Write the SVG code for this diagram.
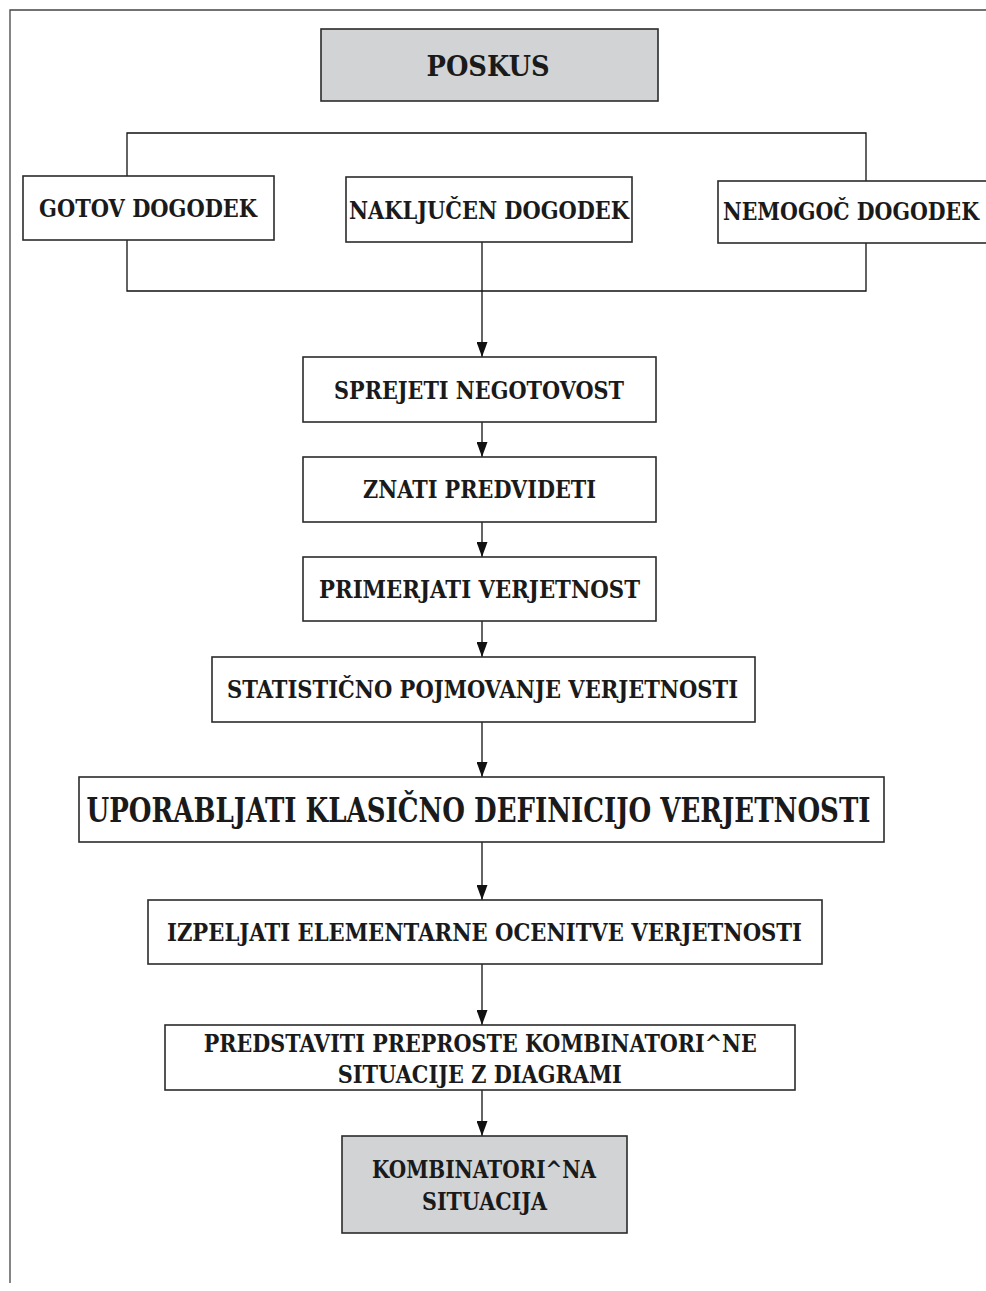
<svg xmlns="http://www.w3.org/2000/svg" width="986" height="1291" viewBox="0 0 986 1291">
<defs>
<style>
.box{fill:#ffffff;stroke:#2b2b2b;stroke-width:1.6}
.grey{fill:#d1d3d4;stroke:#2b2b2b;stroke-width:1.6}
.t{font-family:"DejaVu Serif","Liberation Serif",serif;font-weight:bold;fill:#1a1a1a;text-anchor:middle;font-size:23.5px}
.big{font-size:34px}
.top{font-size:27.5px}
.ln{fill:none;stroke:#111;stroke-width:1.3}
.frame{fill:none;stroke:#444;stroke-width:1.3}
</style>
<marker id="ah" markerUnits="userSpaceOnUse" markerWidth="15" markerHeight="11" refX="15" refY="5.5" orient="auto">
<path d="M0,0 L15,5.5 L0,11 z" fill="#111"/>
</marker>
</defs>
<path class="frame" d="M10,1283 V10 H986"/>
<g id="connectors">
<path class="ln" d="M127,176 V133 H866 V181"/>
<path class="ln" d="M127,240 V291 H866 V243"/>
<path class="ln" d="M482,242 V357" marker-end="url(#ah)"/>
<path class="ln" d="M482,422 V457" marker-end="url(#ah)"/>
<path class="ln" d="M482,522 V557" marker-end="url(#ah)"/>
<path class="ln" d="M482,621 V657" marker-end="url(#ah)"/>
<path class="ln" d="M482,722 V777" marker-end="url(#ah)"/>
<path class="ln" d="M482,842 V900" marker-end="url(#ah)"/>
<path class="ln" d="M482,964 V1025" marker-end="url(#ah)"/>
<path class="ln" d="M482,1090 V1136" marker-end="url(#ah)"/>
</g>
<g id="poskus">
<rect class="grey" x="321" y="29" width="337" height="72"/>
<text class="t top" x="488" y="76" textLength="123" lengthAdjust="spacingAndGlyphs">POSKUS</text>
</g>
<g id="gotov">
<rect class="box" x="23" y="176" width="251" height="64"/>
<text class="t" x="148" y="217" textLength="218" lengthAdjust="spacingAndGlyphs">GOTOV DOGODEK</text>
</g>
<g id="nakljucen">
<rect class="box" x="346" y="177" width="286" height="65"/>
<text class="t" x="489" y="218.5" textLength="280" lengthAdjust="spacingAndGlyphs">NAKLJUČEN DOGODEK</text>
</g>
<g id="nemogoc">
<rect class="box" x="718" y="181" width="280" height="62"/>
<text class="t" transform="translate(851,220) scale(0.88,1)" x="0" y="0" textLength="291" lengthAdjust="spacingAndGlyphs">NEMOGOČ DOGODEK</text>
</g>
<g id="sprejeti">
<rect class="box" x="303" y="357" width="353" height="65"/>
<text class="t" x="479" y="399" textLength="290" lengthAdjust="spacingAndGlyphs">SPREJETI NEGOTOVOST</text>
</g>
<g id="znati">
<rect class="box" x="303" y="457" width="353" height="65"/>
<text class="t" x="479.5" y="498" textLength="233" lengthAdjust="spacingAndGlyphs">ZNATI PREDVIDETI</text>
</g>
<g id="primerjati">
<rect class="box" x="303" y="557" width="353" height="64"/>
<text class="t" x="479.5" y="598" textLength="321" lengthAdjust="spacingAndGlyphs">PRIMERJATI VERJETNOST</text>
</g>
<g id="statisticno">
<rect class="box" x="212" y="657" width="543" height="65"/>
<text class="t" x="482.5" y="698" textLength="511" lengthAdjust="spacingAndGlyphs">STATISTIČNO POJMOVANJE VERJETNOSTI</text>
</g>
<g id="uporabljati">
<rect class="box" x="79" y="777" width="805" height="65"/>
<text class="t big" transform="translate(478.5,822) scale(0.8,1)" x="0" y="0" textLength="980" lengthAdjust="spacingAndGlyphs">UPORABLJATI KLASIČNO DEFINICIJO VERJETNOSTI</text>
</g>
<g id="izpeljati">
<rect class="box" x="148" y="900" width="674" height="64"/>
<text class="t" x="484.5" y="941" textLength="635" lengthAdjust="spacingAndGlyphs">IZPELJATI ELEMENTARNE OCENITVE VERJETNOSTI</text>
</g>
<g id="predstaviti">
<rect class="box" x="165" y="1025" width="630" height="65"/>
<text class="t" x="480.3" y="1051.5" textLength="553" lengthAdjust="spacingAndGlyphs">PREDSTAVITI PREPROSTE KOMBINATORI^NE</text>
<text class="t" x="479.8" y="1083" textLength="284" lengthAdjust="spacingAndGlyphs">SITUACIJE Z DIAGRAMI</text>
</g>
<g id="kombinatorna">
<rect class="grey" x="342" y="1136" width="285" height="97"/>
<text class="t" x="484" y="1178" textLength="224" lengthAdjust="spacingAndGlyphs">KOMBINATORI^NA</text>
<text class="t" x="484.5" y="1210" textLength="125" lengthAdjust="spacingAndGlyphs">SITUACIJA</text>
</g>
</svg>
